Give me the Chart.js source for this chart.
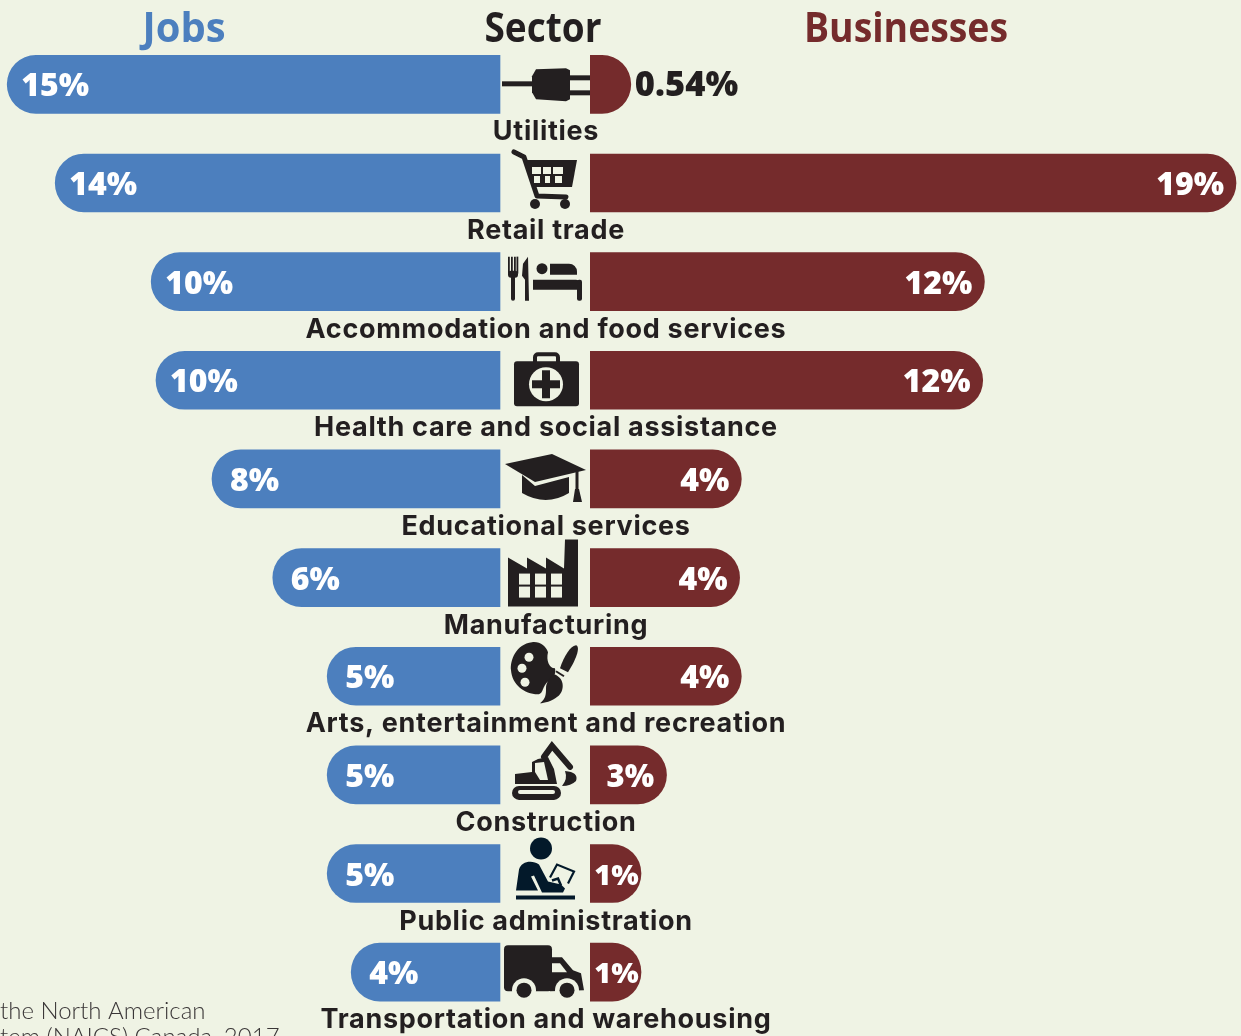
<!DOCTYPE html>
<html>
<head>
<meta charset="utf-8">
<title>Jobs and businesses by sector</title>
<script src="https://cdn.jsdelivr.net/npm/chart.js@4/dist/chart.umd.min.js"></script>
<style>
    html, body { margin: 0; padding: 0; background: #eff3e4; overflow: hidden; }
    canvas { display: block; }
</style>
</head>
<body>
<canvas id="myChart" width="1241" height="1036"></canvas>
<script>
const categories = [
    'Utilities', 'Retail trade', 'Accommodation and food services',
    'Health care and social assistance', 'Educational services', 'Manufacturing',
    'Arts, entertainment and recreation', 'Construction', 'Public administration',
    'Transportation and warehousing'
];
// printed labels
const jobsLabels = ['15%', '14%', '10%', '10%', '8%', '6%', '5%', '5%', '5%', '4%'];
const businessLabels = ['0.54%', '19%', '12%', '12%', '4%', '4%', '4%', '3%', '1%', '1%'];
// bar lengths as drawn in the picture (the printed labels are rounded)
const jobsValues = [15.4, 13.9, 10.9, 10.75, 9.0, 7.1, 5.4, 5.4, 5.4, 4.65];
const businessValues = [1.2, 19, 11.6, 11.55, 4.45, 4.4, 4.45, 2.25, 1.5, 1.5];

const BLUE = '#4c7fbe';
const RED = '#752b2c';
const INK = '#231f20';
const NAVY = '#03192a';
const BG = '#eff3e4';

const poly = (ctx, pts) => {
    ctx.beginPath();
    pts.forEach((p, i) => i ? ctx.lineTo(p[0], p[1]) : ctx.moveTo(p[0], p[1]));
    ctx.closePath();
    ctx.fill();
};
const box = (ctx, x, y, w, h, r) => {
    ctx.beginPath();
    ctx.roundRect(x, y, w, h, r || 0);
    ctx.fill();
};
const dot = (ctx, x, y, r) => {
    ctx.beginPath();
    ctx.arc(x, y, r, 0, Math.PI * 2);
    ctx.fill();
};
const stroke = (ctx, pts, w) => {
    ctx.lineWidth = w;
    ctx.beginPath();
    pts.forEach((p, i) => i ? ctx.lineTo(p[0], p[1]) : ctx.moveTo(p[0], p[1]));
    ctx.stroke();
};

// one pictogram per sector, origin is the middle of the row
const icons = [
    ctx => { // plug
        box(ctx, -44, -3, 32, 5);
        poly(ctx, [[-14, -8], [-10, -15], [20, -16], [24, -14], [24, 15], [20, 17], [-10, 15], [-14, 8]]);
        box(ctx, 24, -9, 20, 5);
        box(ctx, 24, 6, 20, 5);
    },
    ctx => { // cart
        ctx.lineCap = 'round';
        ctx.lineJoin = 'round';
        stroke(ctx, [[-32, -31], [-22, -26], [-9, 13], [20, 14]], 5);
        poly(ctx, [[-20, -23], [31, -23], [26, 4], [-12, 4]]);
        ctx.fillStyle = BG;
        [[-14, -5], [-3, 5], [7, 17]].forEach(c => {
            box(ctx, c[0], -16, c[1] - c[0], 7);
            box(ctx, c[0] + 2, -7, c[1] - c[0] - 3, 7);
        });
        ctx.fillStyle = INK;
        dot(ctx, -11, 21, 5);
        dot(ctx, 19, 21, 5);
    },
    ctx => { // fork, knife, bed
        [-38, -35, -32, -29.5].forEach(x => box(ctx, x, -25, 1.8, 17));
        box(ctx, -38, -11, 10, 7, 3);
        box(ctx, -35, -8, 4, 27, 2);
        poly(ctx, [[-18, -25], [-17, 19], [-21, 19], [-21, -2], [-24, -6], [-23, -18]]);
        dot(ctx, -4, -13, 5.5);
        box(ctx, 4, -18, 27, 11, [0, 8, 0, 0]);
        box(ctx, -13, -2, 49, 10, [0, 6, 0, 0]);
        box(ctx, 31, -2, 5, 21, 2);
    },
    ctx => { // first aid kit
        ctx.strokeStyle = INK;
        ctx.lineWidth = 4;
        ctx.beginPath();
        ctx.roundRect(-11, -26, 23, 14, 3);
        ctx.stroke();
        box(ctx, -32, -19, 65, 45, 3);
        ctx.fillStyle = BG;
        dot(ctx, 0, 4, 17);
        ctx.fillStyle = INK;
        box(ctx, -14, 0, 28, 8);
        box(ctx, -4, -10, 8, 28);
    },
    ctx => { // graduation cap
        poly(ctx, [[-41, -15], [6, -25], [40, -9], [-11, 3]]);
        ctx.beginPath();
        ctx.moveTo(-24, -4);
        ctx.lineTo(-11, 7);
        ctx.lineTo(23, -2);
        ctx.lineTo(23, 14);
        ctx.quadraticCurveTo(0, 28, -24, 14);
        ctx.closePath();
        ctx.fill();
        box(ctx, 29.5, -8, 3, 20);
        poly(ctx, [[29, 10], [33, 10], [36, 23], [27, 23]]);
    },
    ctx => { // factory
        poly(ctx, [[-38, -20], [-19, -9], [-19, -20], [0, -9], [0, -20], [18, -9], [19, -38], [32, -38], [32, 29], [-38, 29]]);
        ctx.fillStyle = BG;
        [-27, -11, 5].forEach(x => {
            box(ctx, x, -4, 11, 11);
            box(ctx, x, 9, 11, 11);
        });
    },
    ctx => { // palette and brush
        ctx.beginPath();
        ctx.moveTo(-14, -34);
        ctx.bezierCurveTo(-30, -32, -36, -16, -35, -6);
        ctx.bezierCurveTo(-34, 8, -22, 18, -8, 18);
        ctx.bezierCurveTo(-2, 18, -4, 8, 4, 4);
        ctx.bezierCurveTo(8, 0, 10, -2, 9, -8);
        ctx.bezierCurveTo(3, -8, 0, -16, 2, -24);
        ctx.bezierCurveTo(0, -30, -6, -35, -14, -34);
        ctx.fill();
        ctx.fillStyle = BG;
        dot(ctx, -17, -19, 4.5);
        dot(ctx, -24, -8, 4.5);
        dot(ctx, -21, 6, 4.5);
        ctx.fillStyle = INK;
        ctx.beginPath();
        ctx.moveTo(30, -31);
        ctx.bezierCurveTo(34, -30, 32, -20, 22, -4);
        ctx.lineTo(14, -8);
        ctx.bezierCurveTo(18, -20, 24, -30, 30, -31);
        ctx.fill();
        stroke(ctx, [[10, -5], [18, 0]], 2);
        ctx.beginPath();
        ctx.moveTo(8, -2);
        ctx.bezierCurveTo(20, 2, 18, 16, 12, 20);
        ctx.bezierCurveTo(6, 25, -2, 27, -6, 27);
        ctx.bezierCurveTo(0, 22, 0, 18, 0, 12);
        ctx.bezierCurveTo(0, 6, 4, 1, 8, -2);
        ctx.fill();
    },
    ctx => { // excavator
        ctx.lineCap = 'round';
        box(ctx, -34, 11, 49, 14, 7);
        ctx.fillStyle = BG;
        box(ctx, -28, 15, 37, 4, 2);
        ctx.fillStyle = INK;
        poly(ctx, [[-31, -1], [-14, -3], [-14, -13], [-8, -16], [2, -18], [8, -6], [11, 9], [-31, 9]]);
        stroke(ctx, [[-2, -18], [6, -29], [24, -8]], 6);
        ctx.beginPath();
        ctx.moveTo(19, -4);
        ctx.quadraticCurveTo(33, -3, 30, 6);
        ctx.quadraticCurveTo(25, 11, 16, 11);
        ctx.quadraticCurveTo(22, 4, 19, -4);
        ctx.fill();
        ctx.fillStyle = BG;
        poly(ctx, [[-11, -12], [-2, -13], [2, 5], [-6, 5], [-11, -3]]);
    },
    ctx => { // person at a desk
        ctx.fillStyle = NAVY;
        ctx.strokeStyle = NAVY;
        dot(ctx, -5, -25, 11);
        box(ctx, -30, 22, 59, 4);
        ctx.beginPath();
        ctx.moveTo(-30, 17);
        ctx.lineTo(-27, -4);
        ctx.bezierCurveTo(-25, -12, -14, -14, -7, -9);
        ctx.lineTo(2, 8);
        ctx.lineTo(15, 11);
        ctx.lineTo(19, 15);
        ctx.lineTo(17, 19);
        ctx.lineTo(-4, 19);
        ctx.lineTo(-12, 2);
        ctx.lineTo(-15, 3);
        ctx.lineTo(-8, 17);
        ctx.closePath();
        ctx.fill();
        ctx.lineCap = 'butt';
        stroke(ctx, [[4, 4], [11, -9], [28, -2], [22, 10]], 2.2);
        stroke(ctx, [[6, 7], [12, 5], [15, 12]], 2.5);
    },
    ctx => { // delivery truck
        box(ctx, -42, -27, 48, 46, 4);
        poly(ctx, [[4, -15], [16, -15], [27, -2], [35, 1], [38, 18], [4, 19]]);
        ctx.fillStyle = BG;
        poly(ctx, [[6, -9], [14, -9], [21, 0], [6, 0]]);
        dot(ctx, -22, 18, 12);
        dot(ctx, 21, 18, 12);
        ctx.fillStyle = INK;
        dot(ctx, -22, 18, 7.5);
        dot(ctx, 21, 18, 7.5);
    }
];

// value labels, sector names, pictograms and headers on top of the bars
const overlay = {
    id: 'overlay',
    afterDatasetsDraw(chart) {
        const ctx = chart.ctx;
        const y = chart.scales.y;
        const jobsBars = chart.getDatasetMeta(0).data;
        const bizBars = chart.getDatasetMeta(1).data;
        const barLeft = chart.scales.xBiz.getPixelForValue(0);
        const centerX = 546;

        ctx.save();
        ctx.textBaseline = 'alphabetic';
        categories.forEach((name, i) => {
            const cy = y.getPixelForValue(i);

            ctx.font = '800 32px "Open Sans"';
            ctx.fillStyle = '#fff';
            ctx.textAlign = 'left';
            ctx.fillText(jobsLabels[i], jobsBars[i].x + (jobsLabels[i].length > 2 ? 14 : 18), cy + 12);

            const barRight = bizBars[i].x;
            if (barRight - barLeft < 50) {
                ctx.font = '800 34.5px "Open Sans"';
                ctx.fillStyle = INK;
                ctx.fillText(businessLabels[i], barRight + 4, cy + 12);
            } else if (barRight - barLeft < 60) {
                ctx.font = '800 29px "Open Sans"';
                ctx.textAlign = 'center';
                ctx.fillText(businessLabels[i], (barLeft + barRight) / 2 + 1, cy + 11);
            } else if (barRight - barLeft < 100) {
                ctx.font = '800 31px "Open Sans"';
                ctx.textAlign = 'center';
                ctx.fillText(businessLabels[i], (barLeft + barRight) / 2 + 2, cy + 12);
            } else {
                ctx.textAlign = 'right';
                ctx.fillText(businessLabels[i], barRight - 12, cy + 12);
            }

            ctx.font = '700 27px Inter';
            ctx.letterSpacing = '0.7px';
            ctx.fillStyle = INK;
            ctx.textAlign = 'center';
            ctx.fillText(name, centerX, cy + 56);
            ctx.letterSpacing = '0px';

            ctx.save();
            ctx.translate(centerX, cy);
            ctx.fillStyle = INK;
            ctx.strokeStyle = INK;
            icons[i](ctx);
            ctx.restore();
        });

        // condensed headers: squeeze a bold sans to the measured widths
        ctx.font = '700 42px "Open Sans"';
        ctx.textAlign = 'center';
        ctx.fillStyle = BLUE;
        ctx.fillText('Jobs', 184, 42, 83);
        ctx.fillStyle = INK;
        ctx.fillText('Sector', 543, 42, 117);
        ctx.fillStyle = RED;
        ctx.fillText('Businesses', 906, 42, 204);

        ctx.font = '300 24px Lato';
        ctx.textAlign = 'left';
        ctx.fillStyle = '#3a3637';
        ctx.fillText('the North American', 0, 1019);
        ctx.fillText('tem (NAICS) Canada, 2017', 0, 1045);
        ctx.restore();
    }
};

// business bars start one unit behind zero and are clipped there, so the small
// ones keep the full round end instead of a radius limited to half their length
const BEHIND = -1;

new Chart(document.getElementById('myChart').getContext('2d'), {
    type: 'bar',
    data: {
        labels: categories,
        datasets: [
            { label: 'Jobs', data: jobsValues, backgroundColor: BLUE, xAxisID: 'xJobs', grouped: false, barThickness: 58, borderRadius: 30 },
            {
                label: 'Businesses',
                data: businessValues.map(v => [BEHIND, v]),
                backgroundColor: RED,
                xAxisID: 'xBiz',
                grouped: false,
                barThickness: 58,
                borderRadius: 30,
                clip: { left: -590, right: 0, top: 0, bottom: 0 }
            }
        ]
    },
    options: {
        indexAxis: 'y',
        responsive: false,
        animation: false,
        layout: { padding: { top: 35, bottom: 14.5 } },
        plugins: { legend: { display: false }, tooltip: { enabled: false } },
        scales: {
            y: { display: false },
            // 32px per unit, zero at x=500, growing to the left
            xJobs: { display: false, reverse: true, min: -741 / 32, max: 500 / 32 },
            // 34px per unit, zero at x=590, growing to the right
            xBiz: { display: false, min: -590 / 34, max: 651 / 34 }
        }
    },
    plugins: [overlay]
});
</script>
</body>
</html>
